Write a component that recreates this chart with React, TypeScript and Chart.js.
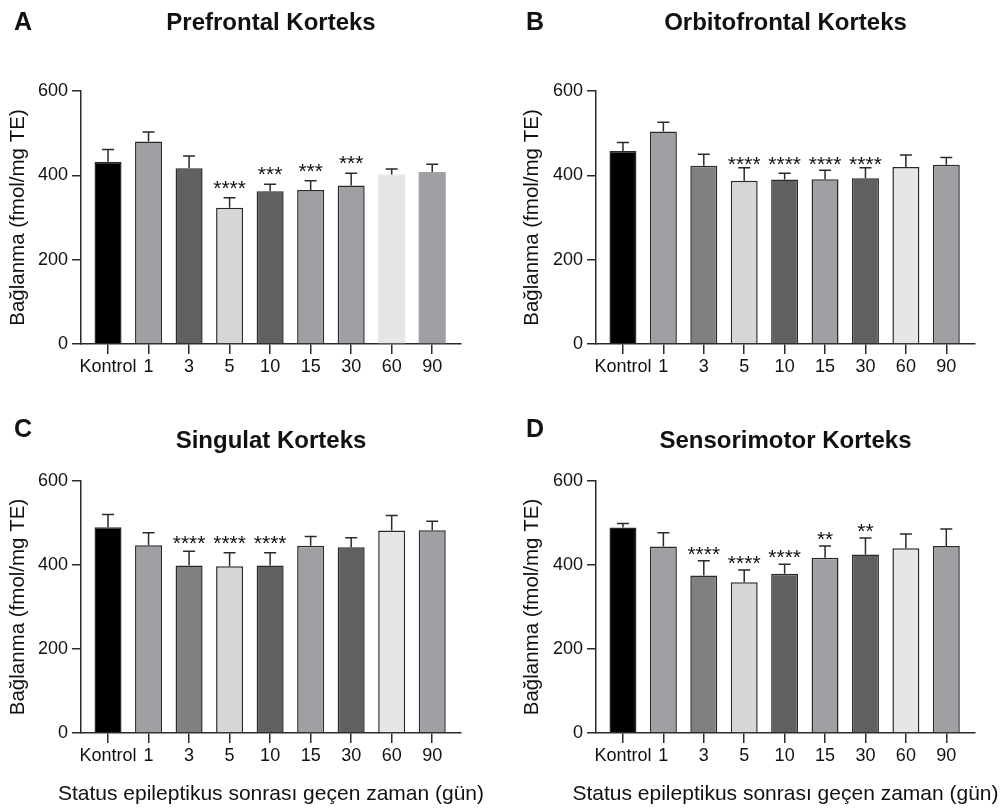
import React, { useEffect, useRef } from "react";
import { Chart, registerables } from "chart.js";

Chart.register(...registerables);

// ---------- data ----------
const categories = ["Kontrol", "1", "3", "5", "10", "15", "30", "60", "90"];

const prefrontalMeans = [432, 480, 417, 323, 362, 365, 376, 402, 408];
const prefrontalErrors = [29, 23, 29, 24, 17, 22, 29, 13, 18];
const prefrontalStars = ["", "", "", "****", "***", "***", "***", "", ""];

const orbitofrontalMeans = [458, 504, 423, 387, 390, 391, 393, 420, 425];
const orbitofrontalErrors = [20, 22, 27, 31, 15, 21, 25, 28, 17];
const orbitofrontalStars = ["", "", "", "****", "****", "****", "****", "", ""];

const singulatMeans = [490, 447, 399, 397, 399, 446, 442, 482, 483];
const singulatErrors = [30, 30, 34, 32, 30, 22, 23, 36, 21];
const singulatStars = ["", "", "****", "****", "****", "", "", "", ""];

const sensorimotorMeans = [489, 444, 375, 359, 379, 417, 425, 440, 445];
const sensorimotorErrors = [10, 33, 35, 29, 23, 28, 39, 34, 41];
const sensorimotorStars = ["", "", "****", "****", "****", "**", "**", "", ""];

const yMin = 0;
const yMax = 600;
const yStep = 200;

const yTitle = "Bağlanma (fmol/mg TE)";
const xTitle = "Status epileptikus sonrası geçen zaman (gün)";

// ---------- styles ----------
const FONT = "'Liberation Sans', Arial, Helvetica, sans-serif";
const INK = "#111111";
const AXIS = "#2a2a2a";

const paletteA = ["#000000", "#a0a0a4", "#606060", "#d6d6d6", "#606060", "#a0a0a4", "#a0a0a4", "#e6e6e6", "#a0a0a4"];
const paletteB = ["#000000", "#a0a0a4", "#808080", "#d6d6d6", "#606060", "#a0a0a4", "#606060", "#e6e6e6", "#a0a0a4"];
const bordersA = [1.5, 1.5, 1.5, 1.5, 1.5, 1.5, 1.5, 0, 0];
const bordersAll = [1.5, 1.5, 1.5, 1.5, 1.5, 1.5, 1.5, 1.5, 1.5];

Chart.defaults.font.family = FONT;
Chart.defaults.color = INK;

type PanelProps = {
  left: number;
  top: number;
  width: number;
  height: number;
  title: string;
  means: number[];
  errors: number[];
  stars: string[];
  colors: string[];
  borders: number[];
  yAxisWidth: number;
  yTitlePad: number;
  padRight: number;
  titlePadTop: number;
  titlePadBottom: number;
  xAxisHeight: number;
  showXTitle: boolean;
  starOffset: number;
  alignStars: boolean;
};

const TITLE_SIZE = 24;
const TICK_SIZE = 18;
const YTITLE_SIZE = 20.5;
const XTITLE_SIZE = 21;
const STAR_SIZE = 21;

function makeErrorPlugin(p: PanelProps) {
  return {
    id: "errorBarsAndStars",
    afterDatasetsDraw(chart: any) {
      const ctx = chart.ctx;
      const meta = chart.getDatasetMeta(0);
      const ys = chart.scales.y;
      ctx.save();
      ctx.strokeStyle = AXIS;
      ctx.lineWidth = 1.5;
      const tops: number[] = [];
      meta.data.forEach((bar: any, i: number) => {
        const x = bar.x;
        const y0 = ys.getPixelForValue(p.means[i]);
        const y1 = ys.getPixelForValue(p.means[i] + p.errors[i]);
        tops.push(y1);
        ctx.beginPath();
        ctx.moveTo(x, y0);
        ctx.lineTo(x, y1);
        ctx.moveTo(x - 6, y1);
        ctx.lineTo(x + 6, y1);
        ctx.stroke();
      });
      const fs = STAR_SIZE;
      ctx.font = `${fs}px ${FONT}`;
      ctx.fillStyle = INK;
      ctx.textAlign = "center";
      ctx.textBaseline = "alphabetic";
      let level = Infinity;
      p.stars.forEach((s, i) => {
        if (s) level = Math.min(level, tops[i]);
      });
      meta.data.forEach((bar: any, i: number) => {
        const s = p.stars[i];
        if (!s) return;
        const c = (p.alignStars ? level : tops[i]) - p.starOffset;
        ctx.fillText(s, bar.x, c + 0.57 * fs);
      });
      ctx.restore();
    },
    afterDraw(chart: any) {
      if (!p.showXTitle) return;
      const ctx = chart.ctx;
      const area = chart.chartArea;
      ctx.save();
      ctx.font = `${XTITLE_SIZE}px ${FONT}`;
      ctx.fillStyle = INK;
      ctx.textAlign = "center";
      ctx.textBaseline = "alphabetic";
      ctx.fillText(xTitle, (area.left + area.right) / 2, chart.height - 10);
      ctx.restore();
    },
  };
}

function Panel(p: PanelProps) {
  const ref = useRef<HTMLCanvasElement | null>(null);
  useEffect(() => {
    if (!ref.current) return;
    const chart = new Chart(ref.current, {
      type: "bar",
      data: {
        datasets: [
          {
            data: p.means.map((v, i) => ({ x: i, y: v })),
            backgroundColor: p.colors,
            borderColor: AXIS,
            borderWidth: p.borders,
            barPercentage: 0.667,
            categoryPercentage: 1,
          } as any,
        ],
      },
      options: {
        responsive: false,
        animation: false,
        devicePixelRatio: 1,
        layout: { padding: { left: 0, right: p.padRight, top: 0, bottom: 0 } },
        plugins: {
          legend: { display: false },
          tooltip: { enabled: false },
          title: {
            display: true,
            text: p.title,
            fullSize: false,
            color: INK,
            font: { size: TITLE_SIZE, weight: "bold" },
            padding: { top: p.titlePadTop, bottom: p.titlePadBottom },
          },
        },
        scales: {
          x: {
            type: "linear",
            offset: false,
            min: -0.667,
            max: 8.71,
            bounds: "data",
            afterBuildTicks: (s: any) => {
              s.ticks = categories.map((_, i) => ({ value: i }));
            },
            afterFit: (s: any) => {
              s.height = p.xAxisHeight;
            },
            ticks: {
              callback: (v: any) => categories[Math.round(Number(v))],
              autoSkip: false,
              maxRotation: 0,
              color: INK,
              font: { size: TICK_SIZE },
              padding: 2.5,
            },
            grid: {
              display: true,
              offset: false,
              drawOnChartArea: false,
              drawTicks: true,
              tickLength: 10,
              color: AXIS,
              lineWidth: 1.5,
            },
            border: { display: true, color: AXIS, width: 1.5 },
            title: { display: false },
          } as any,
          y: {
            min: yMin,
            max: yMax,
            afterFit: (s: any) => {
              s.width = p.yAxisWidth;
            },
            ticks: { stepSize: yStep, color: INK, font: { size: TICK_SIZE }, padding: 4 },
            grid: {
              display: true,
              drawOnChartArea: false,
              drawTicks: true,
              tickLength: 9,
              color: AXIS,
              lineWidth: 1.5,
            },
            border: { display: true, color: AXIS, width: 1.5 },
            title: {
              display: true,
              text: yTitle,
              color: INK,
              font: { size: YTITLE_SIZE },
              padding: { top: p.yTitlePad, bottom: 0 },
            },
          } as any,
        },
      } as any,
      plugins: [makeErrorPlugin(p)],
    });
    return () => chart.destroy();
  }, []);
  return (
    <canvas
      ref={ref}
      width={p.width}
      height={p.height}
      style={{ position: "absolute", left: p.left, top: p.top, width: p.width, height: p.height }}
    />
  );
}

function Letter({ text, left, top }: { text: string; left: number; top: number }) {
  return (
    <div
      style={{
        position: "absolute",
        left,
        top,
        font: `bold 25px ${FONT}`,
        lineHeight: "25px",
        color: INK,
      }}
    >
      {text}
    </div>
  );
}

export default function App() {
  return (
    <div style={{ position: "absolute", left: 0, top: 0, width: 1001, height: 810, background: "#fff", overflow: "hidden" }}>
      <Panel
        left={0} top={0} width={500} height={400}
        title="Prefrontal Korteks"
        means={prefrontalMeans} errors={prefrontalErrors} stars={prefrontalStars}
        colors={paletteA} borders={bordersA}
        yAxisWidth={81} yTitlePad={5.7} padRight={39}
        titlePadTop={9.1} titlePadBottom={53.1} xAxisHeight={56} showXTitle={false}
        starOffset={15} alignStars={false}
      />
      <Panel
        left={500} top={0} width={501} height={400}
        title="Orbitofrontal Korteks"
        means={orbitofrontalMeans} errors={orbitofrontalErrors} stars={orbitofrontalStars}
        colors={paletteB} borders={bordersAll}
        yAxisWidth={96} yTitlePad={19.7} padRight={26}
        titlePadTop={8.6} titlePadBottom={53.6} xAxisHeight={56} showXTitle={false}
        starOffset={8.7} alignStars={true}
      />
      <Panel
        left={0} top={400} width={500} height={410}
        title="Singulat Korteks"
        means={singulatMeans} errors={singulatErrors} stars={singulatStars}
        colors={paletteB} borders={bordersAll}
        yAxisWidth={81} yTitlePad={5.7} padRight={39}
        titlePadTop={26.6} titlePadBottom={25.6} xAxisHeight={77} showXTitle={true}
        starOffset={12.7} alignStars={true}
      />
      <Panel
        left={500} top={400} width={501} height={410}
        title="Sensorimotor Korteks"
        means={sensorimotorMeans} errors={sensorimotorErrors} stars={sensorimotorStars}
        colors={paletteB} borders={bordersAll}
        yAxisWidth={96} yTitlePad={19.7} padRight={26}
        titlePadTop={26.6} titlePadBottom={25.6} xAxisHeight={77} showXTitle={true}
        starOffset={12} alignStars={false}
      />
      <Letter text="A" left={14} top={8.8} />
      <Letter text="B" left={526} top={8.8} />
      <Letter text="C" left={14} top={415.8} />
      <Letter text="D" left={526} top={415.8} />
    </div>
  );
}
